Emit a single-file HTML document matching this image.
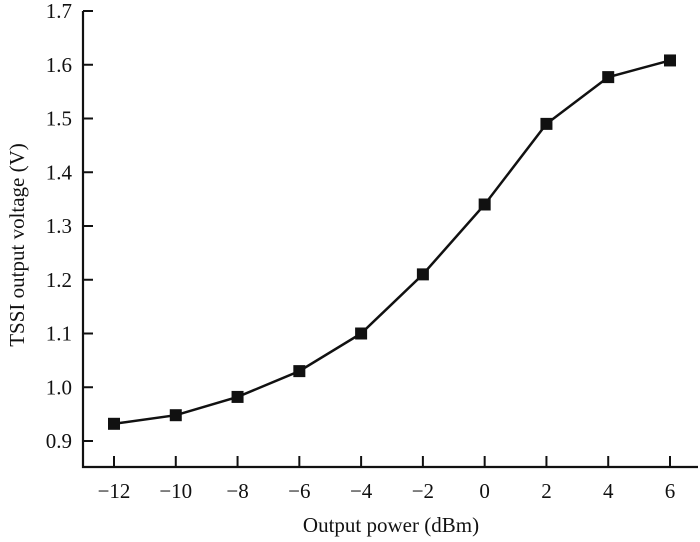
<!DOCTYPE html>
<html><head><meta charset="utf-8"><style>
html,body{margin:0;padding:0;background:#fff;}
svg{display:block;font-family:"Liberation Serif",serif;}
</style></head><body>
<svg id="chart" width="700" height="542"></svg>
<script>
const xValues=[-12,-10,-8,-6,-4,-2,0,2,4,6];
const yValues=[0.932,0.948,0.982,1.030,1.100,1.210,1.340,1.490,1.577,1.608];
const yTicks=[0.9,1.0,1.1,1.2,1.3,1.4,1.5,1.6,1.7];
const yTickLabels=["0.9","1.0","1.1","1.2","1.3","1.4","1.5","1.6","1.7"];
const xTicks=[-12,-10,-8,-6,-4,-2,0,2,4,6];
const xTickLabels=["\u221212","\u221210","\u22128","\u22126","\u22124","\u22122","0","2","4","6"];
const NS="http://www.w3.org/2000/svg";
const svg=document.getElementById('chart');
const X=v=>114+(v+12)*(670-114)/18;
const Y=v=>441-(v-0.9)*537.5;
function mk(t,a,p){const e=document.createElementNS(NS,t);for(const k in a)e.setAttribute(k,a[k]);(p||svg).appendChild(e);return e;}
const ax=mk('path',{d:'M83,11 V467 H698',fill:'none',stroke:'#111','stroke-width':2.2});


yTicks.forEach((v,i)=>{
  const t=mk('line',{x1:83,x2:93,y1:Y(v),y2:Y(v),stroke:'#111','stroke-width':2});
  
  
  const l=mk('text',{x:72,y:Y(v)+7,'text-anchor':'end','font-size':21,fill:'#111'});
  l.textContent=yTickLabels[i];
  
  
});
xTicks.forEach((v,i)=>{
  const t=mk('line',{x1:X(v),x2:X(v),y1:467,y2:456,stroke:'#111','stroke-width':2});
  
  
  const l=mk('text',{x:X(v),y:498,'text-anchor':'middle','font-size':21,fill:'#111'});
  l.textContent=xTickLabels[i];
  
  
});
const line=mk('polyline',{points:xValues.map((x,i)=>X(x)+','+Y(yValues[i])).join(' '),fill:'none',stroke:'#111','stroke-width':2.5});


xValues.forEach((x,i)=>{
  const m=mk('rect',{x:X(x)-6,y:Y(yValues[i])-6,width:12,height:12,fill:'#111'});
  
  
});
const xt=mk('text',{x:391,y:532,'text-anchor':'middle','font-size':21,fill:'#111'});
xt.textContent='Output power (dBm)';


const yt=mk('text',{x:0,y:0,'text-anchor':'middle','font-size':21,fill:'#111',transform:'translate(24,245) rotate(-90)'});
yt.textContent='TSSI output voltage (V)';


</script>
</body></html>
